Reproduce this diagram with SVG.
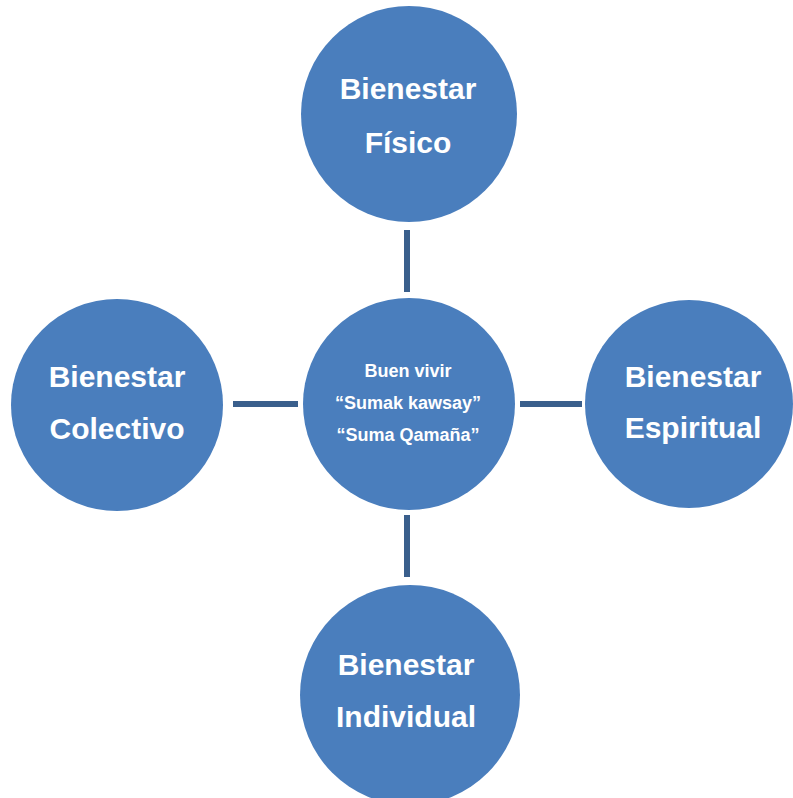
<svg xmlns="http://www.w3.org/2000/svg" width="793" height="798" viewBox="0 0 793 798">
<style>
.c{fill:#4a7ebd;}
.t{fill:#ffffff;font-family:"Liberation Sans",Arial,sans-serif;font-weight:bold;font-size:30px;text-anchor:middle;}
.s{fill:#ffffff;font-family:"Liberation Sans",Arial,sans-serif;font-weight:bold;font-size:18px;text-anchor:middle;}
.l{stroke:#3a5f8c;stroke-width:6;fill:none;}
</style>
<rect width="793" height="798" fill="#ffffff"/>
<g id="connectors">
<line class="l" x1="407" y1="230" x2="407" y2="292"/>
<line class="l" x1="233" y1="404" x2="298" y2="404"/>
<line class="l" x1="520" y1="404" x2="582" y2="404"/>
<line class="l" x1="407" y1="515" x2="407" y2="577"/>
</g>
<g id="top">
<circle class="c" cx="409" cy="114" r="108"/>
<text class="t" x="408" y="99">Bienestar</text>
<text class="t" x="408" y="153">Físico</text>
</g>
<g id="center">
<circle class="c" cx="409" cy="404" r="106"/>
<text class="s" x="408" y="377">Buen vivir</text>
<text class="s" x="408" y="409">“Sumak kawsay”</text>
<text class="s" x="408" y="441">“Suma Qamaña”</text>
</g>
<g id="left">
<circle class="c" cx="117" cy="405" r="106"/>
<text class="t" x="117" y="387">Bienestar</text>
<text class="t" x="117" y="439">Colectivo</text>
</g>
<g id="right">
<circle class="c" cx="689" cy="404" r="104"/>
<text class="t" x="693" y="387">Bienestar</text>
<text class="t" x="693" y="438">Espiritual</text>
</g>
<g id="bottom">
<circle class="c" cx="410" cy="695" r="110"/>
<text class="t" x="406" y="675">Bienestar</text>
<text class="t" x="406" y="727">Individual</text>
</g>
</svg>
